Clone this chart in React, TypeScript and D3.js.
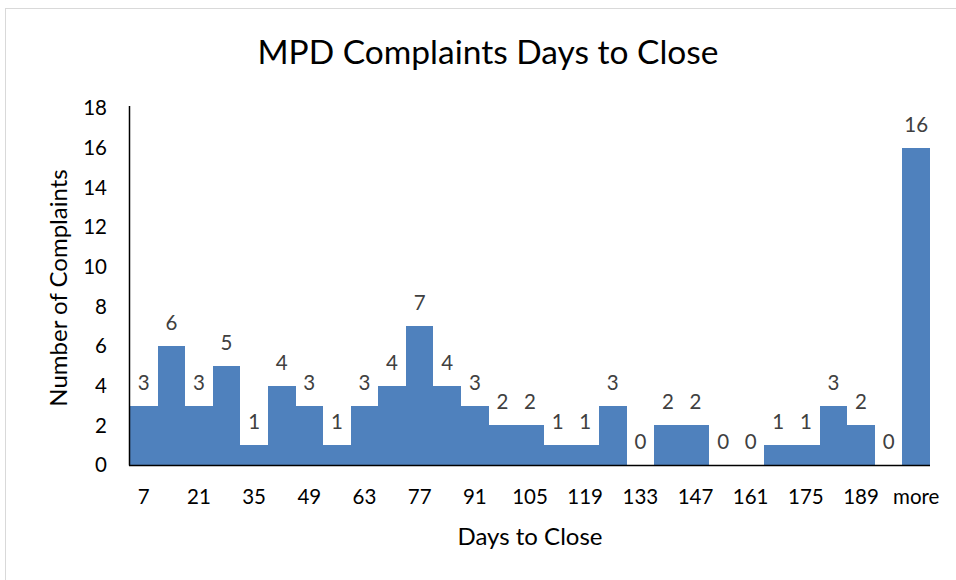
import React from "react";
import * as d3 from "d3";

const binLabels = ["7","14","21","28","35","42","49","56","63","70","77","84","91","98","105","112","119","126","133","140","147","154","161","168","175","182","189","196","more"];
const counts = [3,6,3,5,1,4,3,1,3,4,7,4,3,2,2,1,1,3,0,2,2,0,0,1,1,3,2,0,16];
const yTicks = [0,2,4,6,8,10,12,14,16,18];
const title = "MPD Complaints Days to Close";
const xTitle = "Days to Close";
const yTitle = "Number of Complaints";

export default function App() {
  const W = 956, H = 580;
  const left = 130, right = 930, top = 108, bottom = 465;
  const x = d3.scaleBand<string>().domain(binLabels).range([left, right]).paddingInner(0).paddingOuter(0);
  const y = d3.scaleLinear().domain([0, 18]).range([bottom, top]);
  const font = "Lato, 'Open Sans', sans-serif";
  return (
    <svg width={W} height={H} style={{ position: "absolute", left: 0, top: 0, background: "#fff" }}>
      <rect x={5.5} y={8.5} width={W} height={H} fill="#fff" stroke="#d9d9d9" strokeWidth={1} />
      <text x={488} y={64} textAnchor="middle" fontFamily={font} fontSize={33.5} fill="#000">{title}</text>
      {counts.map((c, i) => (
        c > 0 ? (
          <rect key={"b" + i} x={Math.round(x(binLabels[i])!)} y={Math.round(y(c))}
            width={Math.round(x(binLabels[i])! + x.bandwidth()) - Math.round(x(binLabels[i])!)}
            height={bottom - Math.round(y(c))}
            fill="#4F81BD" shapeRendering="crispEdges" />
        ) : null
      ))}
      {counts.map((c, i) => (
        <text key={"l" + i} x={x(binLabels[i])! + x.bandwidth() / 2} y={y(c) - 16} textAnchor="middle"
          fontFamily={font} fontSize={20.5} fill="#404040">{c}</text>
      ))}
      <line x1={left - 0.5} x2={left - 0.5} y1={top - 2} y2={bottom + 0.5} stroke="#000" strokeWidth={1.5} />
      <line x1={left - 1} x2={right} y1={bottom + 0.5} y2={bottom + 0.5} stroke="#000" strokeWidth={1.5} />
      {yTicks.map(t => (
        <text key={"y" + t} x={107} y={y(t) + 7.4} textAnchor="end" fontFamily={font} fontSize={20.5} fill="#000">{t}</text>
      ))}
      {binLabels.map((b, i) => (i % 2 === 0 ? (
        <text key={"x" + i} x={x(b)! + x.bandwidth() / 2} y={504} textAnchor="middle" fontFamily={font} fontSize={20.5} fill="#000">{b}</text>
      ) : null))}
      <text x={530} y={545} textAnchor="middle" fontFamily={font} fontSize={24} fill="#000">{xTitle}</text>
      <text transform={`translate(67,288) rotate(-90)`} textAnchor="middle" fontFamily={font} fontSize={24} fill="#000">{yTitle}</text>
    </svg>
  );
}
